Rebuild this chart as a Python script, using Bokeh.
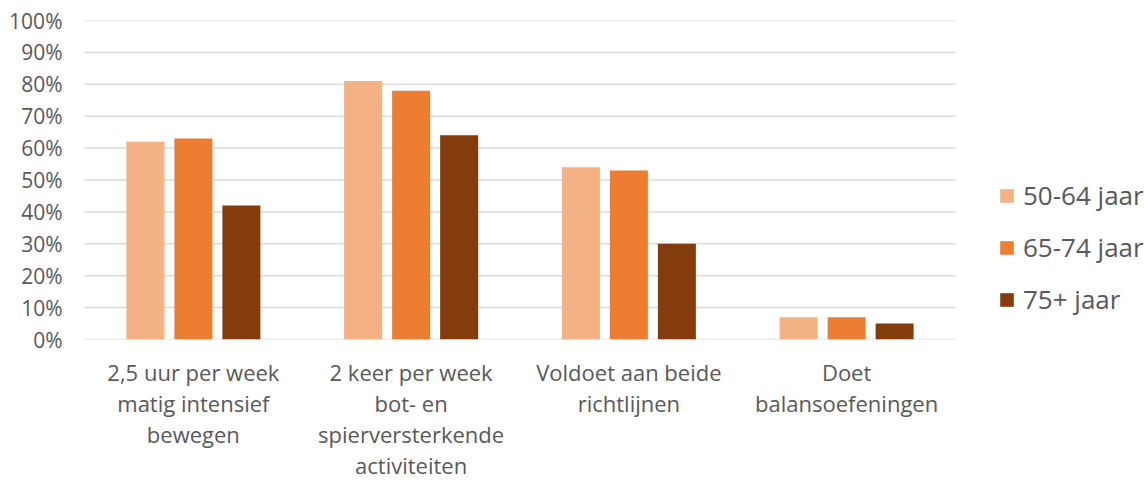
from bokeh.plotting import figure
from bokeh.models import (Range1d, FixedTicker, PrintfTickFormatter,
                          Legend, LegendItem, ColumnDataSource)
from bokeh.embed import file_html
from bokeh.resources import INLINE

categories = [
    "2,5 uur per week\nmatig intensief\nbewegen",
    "2 keer per week\nbot- en\nspierversterkende\nactiviteiten",
    "Voldoet aan beide\nrichtlijnen",
    "Doet\nbalansoefeningen",
]
series_names = ["50-64 jaar", "65-74 jaar", "75+ jaar"]
v_50_64 = [62, 81, 54, 7]
v_65_74 = [63, 78, 53, 7]
v_75plus = [42, 64, 30, 5]
y_ticks = [0, 10, 20, 30, 40, 50, 60, 70, 80, 90, 100]

colors = ["#F4B183", "#ED7D31", "#843C0C"]
FONT = "Open Sans"
GREY = "#595959"

W, H = 1147, 483
FRAME_L, FRAME_R, FRAME_T, FRAME_B = 84, 955, 20, 340
n = len(categories)
px_per_cat = (FRAME_R - FRAME_L) / n
x_end = (W - FRAME_L) / px_per_cat

centers = [i + 0.5 for i in range(n)]
src = ColumnDataSource(dict(x=centers, a=v_50_64, b=v_65_74, c=v_75plus))

p = figure(width=W, height=H, x_range=Range1d(0, x_end), y_range=Range1d(0, 100),
           output_backend="svg", toolbar_location=None,
           min_border_left=FRAME_L, min_border_right=0, min_border_top=FRAME_T,
           min_border_bottom=H - FRAME_B)
p.outline_line_color = None
p.background_fill_color = "white"
p.border_fill_color = "white"
p.xgrid.grid_line_color = None
p.ygrid.grid_line_color = None

# horizontal gridlines limited to the category area
p.segment(x0=[0] * len(y_ticks), x1=[n] * len(y_ticks), y0=y_ticks, y1=y_ticks,
          line_color="#D9D9D9", line_width=1.5)

bw = 38 / px_per_cat
off = 48 / px_per_cat
renderers = []
for col, o, c in zip(["a", "b", "c"], [-off, 0, off], colors):
    r = p.vbar(x=[xc + o for xc in centers], top=src.data[col], width=bw,
               fill_color=c, line_color=None)
    renderers.append(r)

p.yaxis.ticker = FixedTicker(ticks=y_ticks)
p.yaxis.formatter = PrintfTickFormatter(format="%d%%")
p.xaxis.ticker = FixedTicker(ticks=centers)
p.xaxis.major_label_overrides = {c: lab for c, lab in zip(centers, categories)}
for ax in (p.xaxis, p.yaxis):
    ax.axis_line_color = None
    ax.major_tick_line_color = None
    ax.minor_tick_line_color = None
    ax.major_tick_out = 0
    ax.major_tick_in = 0
    ax.minor_tick_out = 0
    ax.minor_tick_in = 0
    ax.major_label_text_font = FONT
    ax.major_label_text_color = GREY
p.yaxis.major_label_text_font_size = "21px"
p.yaxis.major_label_standoff = 22
p.xaxis.major_label_text_font_size = "22px"
p.xaxis.major_label_text_line_height = 1.04
p.xaxis.major_label_standoff = 17

legend = Legend(items=[LegendItem(label=s, renderers=[r]) for s, r in zip(series_names, renderers)],
                location=(998 - FRAME_L, 22), orientation="vertical",
                label_text_font=FONT, label_text_font_size="26px", label_text_color=GREY,
                glyph_width=17, glyph_height=17, label_standoff=8, spacing=16,
                padding=0, margin=0, border_line_color=None, background_fill_alpha=0)
p.add_layout(legend, "center")

open("out.html", "w").write(file_html(p, INLINE))
